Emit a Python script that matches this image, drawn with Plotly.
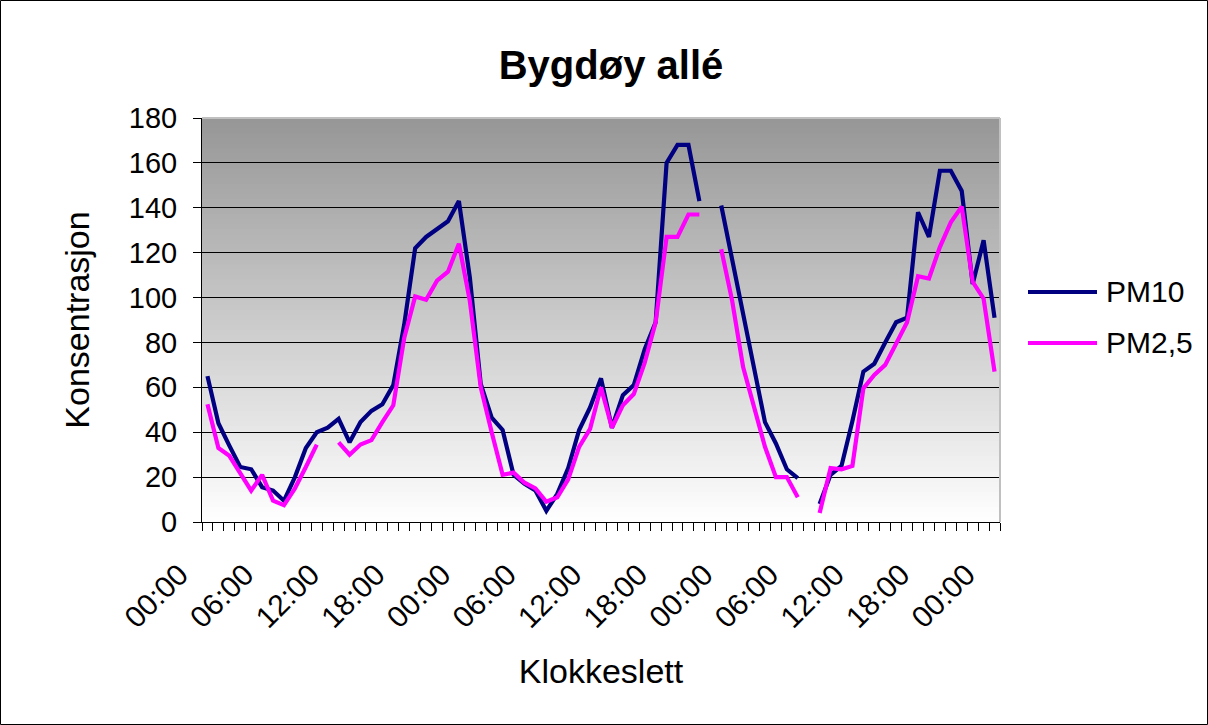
import plotly.graph_objects as go

# ---------------- data ----------------
hours_idx = list(range(73))  # hourly categories, 3 days + final midnight
tick_positions = [0, 6, 12, 18, 24, 30, 36, 42, 48, 54, 60, 66, 72]
tick_labels = ["00:00", "06:00", "12:00", "18:00",
               "00:00", "06:00", "12:00", "18:00",
               "00:00", "06:00", "12:00", "18:00", "00:00"]

pm10 = [65, 44, 34, 24.5, 23.5, 15.5, 14, 9.5, 20, 33, 40, 42,
        46, 35.5, 44.5, 49.5, 52.5, 61, 88, 122, 127, 130.5, 134, 143,
        109, 61.5, 46.5, 41, 21, 17, 14, 5, 12.5, 24, 41, 51,
        64, 42, 56.5, 61, 77, 89, 160, 168, 168, 143, None, 141,
        116.5, 92, 67.5, 44.5, 35, 23.5, 19.5, None, 8, 21, 25, 45,
        67, 70.5, 80, 89, 91, 138, 127, 156.5, 156.5, 147.5, 106, 125.5, 91]

pm25 = [52.5, 33, 29.5, 22, 14, 21, 9.5, 7.5, 15, 24.5, 34.5, None,
        35.5, 30, 34.5, 36.5, 44.5, 52, 82, 100.5, 99, 107.5, 111.5, 124,
        98.5, 60, 40, 21, 22, 17.5, 15, 9, 11, 19, 33.5, 41.5,
        60, 42, 52, 57, 71, 89, 127, 127, 137, 137, None, 121.5,
        98.5, 69, 51, 33.5, 20, 20, 11, None, 4, 24, 23.5, 25,
        59.5, 65.5, 70, 79.5, 89, 109.5, 108.5, 122.5, 133.5, 140.5, 107, 99.5, 67]

series_names = ["PM10", "PM2,5"]
series_colors = ["#000080", "#FF00FF"]

title_text = "Bygdøy allé"
x_title = "Klokkeslett"
y_title = "Konsentrasjon"

# ---------------- layout geometry ----------------
W, H = 1208, 725
L, R, T, B = 202, 1000, 118, 522  # plot area in pixels


def px_x(p):
    return (p - L) / (R - L)


def px_y(p):
    return (B - p) / (B - T)


FONT = "Liberation Sans, Arial, sans-serif"

fig = go.Figure()
for name, vals, col in zip(series_names, [pm10, pm25], series_colors):
    fig.add_trace(go.Scatter(
        x=hours_idx, y=vals, name=name, mode="lines",
        line=dict(color=col, width=4.2), connectgaps=False,
        showlegend=False, cliponaxis=False,
    ))

shapes = []
# gradient background of plot area (overlapping bands to avoid seams)
NB = 80
for k in range(NB):
    frac = (k + 0.5) / NB
    g = round(255 - (255 - 150) * frac)
    shapes.append(dict(type="rect", xref="paper", yref="paper",
                       x0=0, x1=1, y0=k / NB, y1=min(1, (k + 1.6) / NB),
                       fillcolor=f"rgb({g},{g},{g})", line=dict(width=0),
                       layer="below"))
# plot-area border (light grey on top / right)
shapes.append(dict(type="line", xref="paper", yref="paper", x0=0, x1=1, y0=1, y1=1,
                   line=dict(color="#c0c0c0", width=2), layer="above"))
shapes.append(dict(type="line", xref="paper", yref="paper", x0=1, x1=1, y0=0, y1=1,
                   line=dict(color="#c0c0c0", width=2), layer="above"))
# outer chart border
shapes.append(dict(type="rect", xref="paper", yref="paper",
                   x0=px_x(0.5), x1=px_x(W - 0.5), y0=px_y(H - 0.5), y1=px_y(0.5),
                   line=dict(color="black", width=1), fillcolor="rgba(0,0,0,0)"))

# manual legend
annotations = []
legend_y_px = [292, 343]
for name, col, ly in zip(series_names, series_colors, legend_y_px):
    shapes.append(dict(type="line", xref="paper", yref="paper",
                       x0=px_x(1028), x1=px_x(1097), y0=px_y(ly), y1=px_y(ly),
                       line=dict(color=col, width=4)))
    annotations.append(dict(text=name, xref="paper", yref="paper",
                            x=px_x(1104), y=px_y(ly - 1), xanchor="left", yanchor="middle",
                            showarrow=False, font=dict(size=30, color="black", family=FONT)))

fig.update_layout(
    width=W, height=H,
    margin=dict(l=L, r=W - R, t=T, b=H - B, autoexpand=False),
    paper_bgcolor="white", plot_bgcolor="white",
    font=dict(family=FONT, color="black"),
    title=dict(text=f"<b>{title_text}</b>", x=611 / W, xanchor="center",
               y=1 - 65 / H, yanchor="middle", font=dict(size=40, color="black")),
    shapes=shapes, annotations=annotations,
    showlegend=False,
)

fig.update_xaxes(
    range=[-0.5, 72.5], tickmode="array", tickvals=tick_positions, ticktext=tick_labels,
    tickangle=-45, ticks="", showgrid=False, zeroline=False,
    showline=True, linecolor="black", linewidth=1,
    tickfont=dict(size=30, color="black"),
    ticklabelshift=-28, ticklabelstandoff=22,
    minor=dict(tickmode="linear", tick0=-0.5, dtick=1, ticks="outside",
               ticklen=8, tickcolor="black", tickwidth=1, showgrid=False),
    title=dict(text=x_title, font=dict(size=34, color="black"), standoff=26),
)
fig.update_yaxes(
    range=[0, 180], tickmode="linear", tick0=0, dtick=20,
    ticks="outside", ticklen=8, tickcolor="black", tickwidth=1,
    showgrid=True, gridcolor="black", gridwidth=1, zeroline=False,
    showline=True, linecolor="black", linewidth=1,
    tickfont=dict(size=29, color="black"), ticklabelstandoff=10,
    title=dict(text=y_title, font=dict(size=34, color="black"), standoff=28),
)

fig.write_html("out.html", config={"displayModeBar": False},
               post_script="document.body.style.margin='0px';")
